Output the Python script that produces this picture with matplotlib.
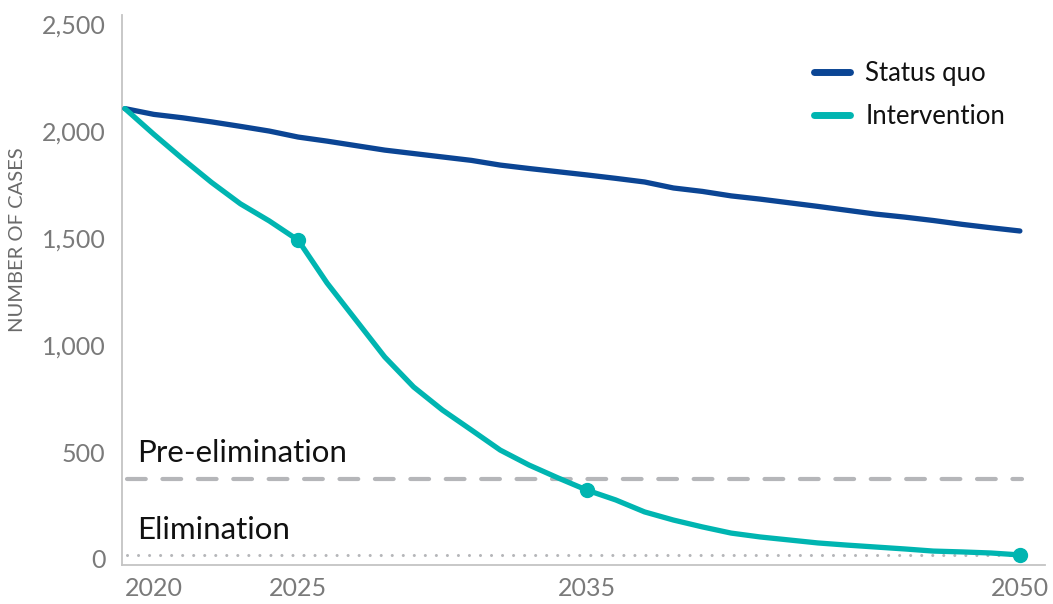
import matplotlib
matplotlib.use("Agg")
import matplotlib.pyplot as plt

plt.rcParams['font.family'] = ['Lato', 'DejaVu Sans']

years = list(range(2019, 2051))
status_quo = [2105, 2078, 2062, 2043, 2022, 2000, 1972, 1953, 1932, 1911,
              1895, 1879, 1863, 1841, 1825, 1810, 1795, 1779, 1762, 1734,
              1718, 1697, 1682, 1665, 1648, 1630, 1612, 1598, 1582, 1564,
              1548, 1533]
intervention = [2105, 1985, 1870, 1760, 1660, 1580, 1490, 1290, 1117, 944,
                804, 696, 603, 509, 439, 379, 322, 276, 220, 182,
                150, 121, 103, 89, 75, 65, 56, 47, 37, 33,
                28, 19]
marker_years = [2025, 2035, 2050]
pre_elimination = 375
elimination = 20
xtick_years = [2020, 2025, 2035, 2050]
yticks = [0, 500, 1000, 1500, 2000, 2500]

BLUE = '#0b4594'
TEAL = '#00b5b1'
GRAY = '#b5b6b9'
TICK = '#7a7a7a'

fig = plt.figure(figsize=(10.53, 6.04), dpi=100)
ax = fig.add_axes([0.1159, 0.0646, 0.8765, 0.9104])

ax.axhline(pre_elimination, color=GRAY, lw=3, dashes=(4.5, 4.0), xmin=0.005, xmax=0.975,
           dash_capstyle='round', zorder=1)
ax.axhline(elimination, color=GRAY, lw=2.2, dashes=(0.01, 3.6), xmin=0.005, xmax=0.975,
           dash_capstyle='round', zorder=1)

ax.plot(years, status_quo, color=BLUE, lw=3.8, solid_capstyle='round',
        solid_joinstyle='round', label='Status quo', zorder=3)
ax.plot(years, intervention, color=TEAL, lw=3.8, solid_capstyle='round',
        solid_joinstyle='round', label='Intervention', zorder=4)
mvals = [intervention[years.index(y)] for y in marker_years]
ax.plot(marker_years, mvals, 'o', color=TEAL, ms=10, zorder=5)

ax.text(2019.42, 453, 'Pre-elimination', fontsize=22.5, color='#111111', va='baseline')
ax.text(2019.42, 93, 'Elimination', fontsize=22.5, color='#111111', va='baseline')

ax.set_xlim(2018.9, 2050.87)
ax.set_ylim(-28, 2542)
ax.set_xticks(xtick_years)
ax.set_xticklabels([str(y) for y in xtick_years])
ax.set_yticks(yticks)
ax.set_yticklabels([f'{v:,}' for v in yticks])
ax.tick_params(axis='both', length=0, labelsize=18, labelcolor=TICK)
ax.tick_params(axis='y', pad=12)
ax.tick_params(axis='x', pad=9)

for s in ['top', 'right']:
    ax.spines[s].set_visible(False)
for s in ['left', 'bottom']:
    ax.spines[s].set_color('#c4c4c4')
    ax.spines[s].set_linewidth(1.3)

fig.text(0.017, 1 - 240 / 604, 'NUMBER OF CASES', rotation=90, fontsize=14.5,
         color='#6a6a6a', ha='center', va='center')

leg = ax.legend(loc='upper left', bbox_to_anchor=(814 / 1053, 1 - 61 / 604),
                bbox_transform=fig.transFigure, frameon=False, fontsize=18.5,
                handlelength=1.4, handletextpad=0.6, labelspacing=0.7,
                borderpad=0, borderaxespad=0)
for h in leg.get_lines():
    h.set_linewidth(5)
for t in leg.get_texts():
    t.set_color('#111111')

fig.savefig('out.png', dpi=100)
